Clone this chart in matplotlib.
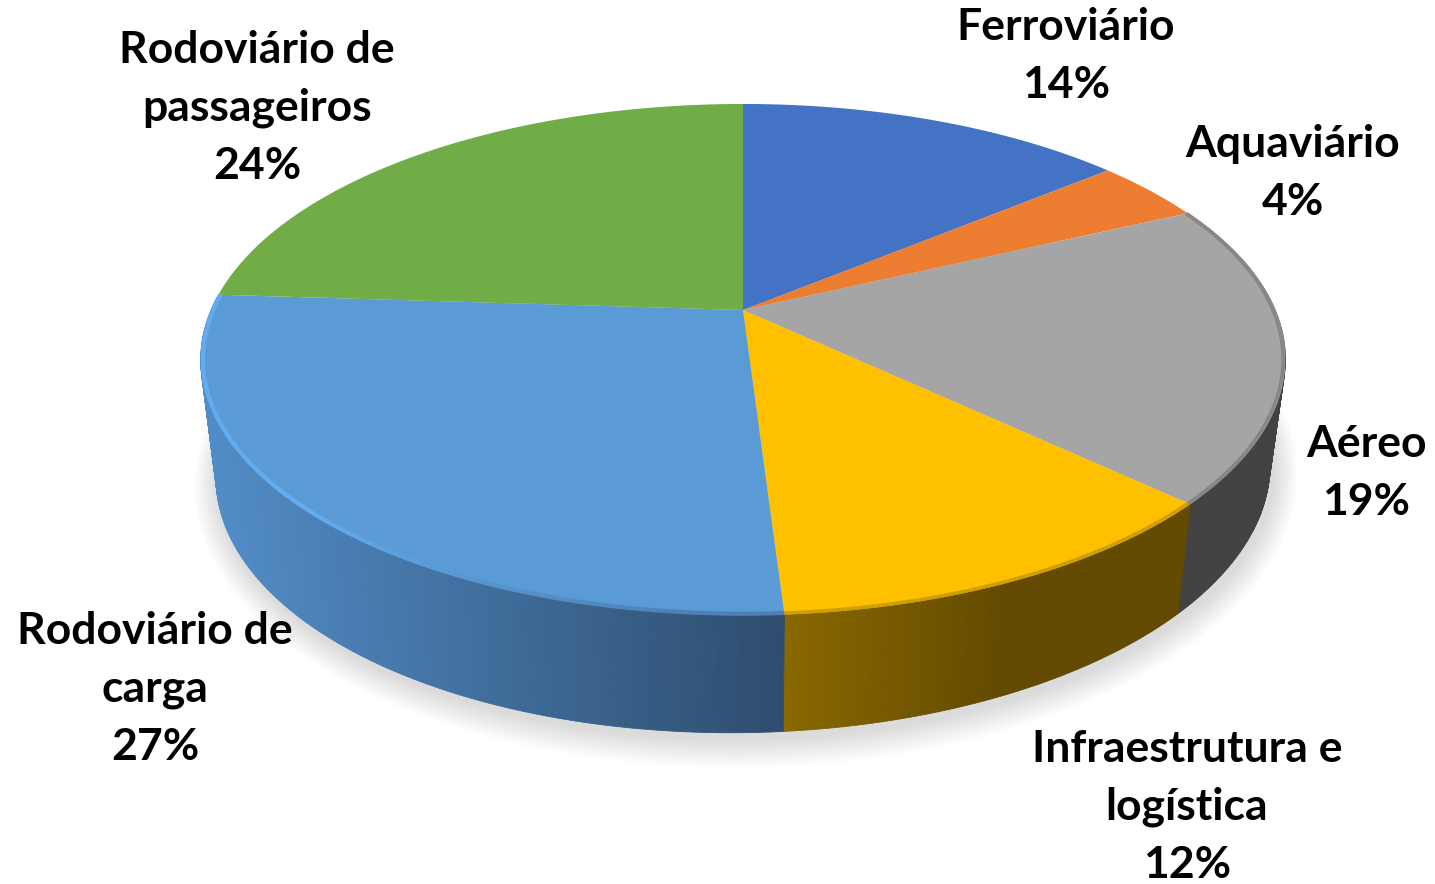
import numpy as np
import matplotlib
matplotlib.use('Agg')
import matplotlib.pyplot as plt

# Chart data, clockwise from the top
categories = ['Ferroviário', 'Aquaviário', 'Aéreo', 'Infraestrutura e\nlogística',
              'Rodoviário de\ncarga', 'Rodoviário de\npassageiros']
values = [14, 4, 19, 12, 27, 24]
colors = ['#4472C4', '#ED7D31', '#A5A5A5', '#FFC000', '#5B9BD5', '#70AD47']

# Centre of each label, in pixels
label_x = [1066, 1293, 1366, 1187, 155, 257]
label_y = [56, 173, 473, 807, 689, 108]

# Perspective of the pie top and of its bottom
K = 0.194
CX = 743


def top_xy(ang, r=1.0):
    # ang is clockwise from the top, in radians
    u, v = r * np.sin(ang), r * np.cos(ang)
    w = 1 + K * v
    return CX + 532 * u / w, 310 - 246 * v / w


def bottom_xy(ang, grow=0.0, dy=0.0):
    # the bottom sits a little lower on the left than on the right
    u, v = np.sin(ang), np.cos(ang)
    w = 1 + K * v
    return CX + (517 + grow) * u / w, 420 + dy - (252 + grow) * v / w - 6 * u / w


def mix(c1, c2, t):
    t = np.clip(t, 0, 1)
    return tuple(np.array(c1) * (1 - t) + np.array(c2) * t)


def side_color(i, x):
    # horizontal shading of the pie wall
    if i == 4:
        return mix((0.32, 0.55, 0.78), (0.18, 0.30, 0.43), (x - 205) / 578)
    if i == 3:
        return mix((0.54, 0.41, 0.0), (0.39, 0.29, 0.0), (x - 783) / 220)
    return (0.26, 0.26, 0.26)


fig = plt.figure(figsize=(14.35, 8.84), dpi=100)
ax = fig.add_axes([0, 0, 1, 1])
ax.set_xlim(0, 1435)
ax.set_ylim(884, 0)
ax.axis('off')

edges = np.cumsum([0] + values) / sum(values) * 2 * np.pi

# soft shadow under the pie
circle = np.linspace(0, 2 * np.pi, 360)
for g in np.arange(24, 0, -2):
    sx, sy = bottom_xy(circle, grow=g, dy=5)
    ax.fill(sx + 3, sy, color='black', alpha=0.011, lw=0, zorder=1)

# walls, one thin strip per step so the shading can run along x
for i in range(2, 5):
    angs = np.linspace(edges[i], edges[i + 1], int(values[i] * 8) + 1)
    for a0, a1 in zip(angs[:-1], angs[1:]):
        x0, y0 = top_xy(a0)
        x1, y1 = top_xy(a1)
        x2, y2 = bottom_xy(a1)
        x3, y3 = bottom_xy(a0)
        c = side_color(i, (x0 + x1) / 2)
        ax.fill([x0, x1, x2, x3], [y0, y1, y2, y3], color=c, lw=0.6, zorder=2)

# top face
for i in range(len(values)):
    angs = np.linspace(edges[i], edges[i + 1], int(values[i] * 8) + 1)
    x, y = top_xy(angs)
    ax.fill(np.r_[CX, x], np.r_[310, y], color=colors[i], lw=0, zorder=3)

# bevel on the front rim
for i in range(2, 5):
    angs = np.linspace(edges[i], edges[i + 1], int(values[i] * 8) + 1)
    for a0, a1 in zip(angs[:-1], angs[1:]):
        x, y = top_xy(np.array([a0, a1]), 0.996)
        mid = (a0 + a1) / 2
        if i == 4:
            t = np.clip((np.degrees(mid) - 185) / 40, 0, 1)
            ax.plot(x, y, color=mix((0.30, 0.50, 0.70), (0.39, 0.68, 0.95), t),
                    lw=3, solid_capstyle='butt', zorder=4)
        elif i == 3:
            ax.plot(x, y, color=(0.80, 0.62, 0.0), lw=2.5, solid_capstyle='butt', zorder=4)
        else:
            ax.plot(x, y, color=(0.52, 0.52, 0.52), lw=2.5, solid_capstyle='butt', zorder=4)
x, y = top_xy(np.linspace(edges[2], np.radians(100), 40), 1.0)
ax.plot(x, y, color='#8a8a8a', lw=1, zorder=4)

for name, val, lx, ly in zip(categories, values, label_x, label_y):
    ax.text(lx, ly, '{}\n{}%'.format(name, val), ha='center', va='center',
            fontsize=32, fontweight='bold', family='Lato', color='black',
            linespacing=1.54, zorder=5)

fig.savefig('out.png', dpi=100)
